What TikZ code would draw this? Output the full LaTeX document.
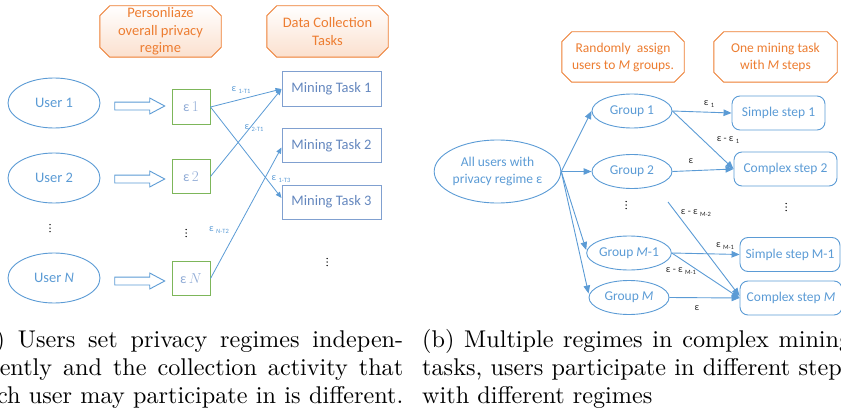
\documentclass[tikz,border=0pt]{standalone}
\usepackage{fontspec}
\newfontfamily\carlito{Carlito}
\usetikzlibrary{arrows.meta,shapes.arrows,shapes.geometric,backgrounds}

\definecolor{lineblue}{RGB}{91,155,213}
\definecolor{taskline}{RGB}{128,160,208}
\definecolor{tasktext}{RGB}{100,135,190}
\definecolor{epsgreen}{RGB}{125,182,90}
\definecolor{epstext}{RGB}{145,172,214}
\definecolor{octorange}{RGB}{237,125,49}
\definecolor{peach}{RGB}{251,224,206}
\definecolor{labdark}{RGB}{40,40,40}

\newcommand\sz[1]{\fontsize{#1}{#1}\selectfont}
% epsilon with a lowered small index, as in the edge labels
\newcommand\epsub[1]{ε\hspace{2.5pt}\raisebox{-2pt}{\sz{6.5}#1}}
% octagonal frame around a named node
\newcommand\octoframe[2]{%
  \draw[#2] ([xshift=10pt]#1.north west) -- ([xshift=-10pt]#1.north east)
    -- ([yshift=-10pt]#1.north east) -- ([yshift=10pt]#1.south east)
    -- ([xshift=-10pt]#1.south east) -- ([xshift=10pt]#1.south west)
    -- ([yshift=10pt]#1.south west) -- ([yshift=-10pt]#1.north west) -- cycle;}
\newcommand\capline[1]{\makebox[177.3pt][s]{#1}}

\tikzset{
  octlabel/.style={rectangle, inner sep=0, minimum width=121pt, minimum height=51pt,
    align=center, text=octorange},
  octline/.style={draw=octorange, line width=0.9pt},
  user/.style={ellipse, draw=lineblue, line width=0.9pt, fill=white, inner sep=0,
    minimum width=92pt, minimum height=50pt, text=lineblue, font=\carlito\sz{14.5}},
  blockarrow/.style={single arrow, draw=lineblue, line width=0.9pt, fill=white,
    inner xsep=0pt, inner ysep=3.5pt, minimum height=50pt,
    single arrow head extend=4pt, single arrow tip angle=56},
  epsbox/.style={rectangle, draw=epsgreen, line width=1pt, minimum width=38pt,
    minimum height=34pt, inner sep=0, text=epstext, font=\carlito\sz{14}},
  task/.style={rectangle, draw=taskline, line width=1pt, minimum width=99pt,
    minimum height=34pt, inner sep=0, text=tasktext, font=\carlito\sz{14.5}},
  conn/.style={draw=lineblue, line width=0.8pt, -{Triangle[length=6pt,width=5pt]}},
  lbl/.style={inner sep=0, text=lineblue, font=\carlito\sz{10}},
  rlbl/.style={inner sep=0, text=labdark, font=\carlito\sz{10}},
  grp/.style={ellipse, draw=lineblue, line width=0.9pt, inner sep=0,
    minimum width=80pt, minimum height=34pt, text=lineblue, font=\carlito\sz{13.5}},
  stepbox/.style={rectangle, rounded corners=8pt, draw=lineblue, line width=0.9pt,
    minimum height=34pt, inner sep=0, text=lineblue, font=\carlito\sz{13.5}},
  rconn/.style={draw=lineblue, line width=0.9pt, -{Triangle[length=8pt,width=6.5pt]}},
  vdot/.pic={\foreach \k in {-3.5,0,3.5} \fill (0,\k) circle[radius=0.75pt];},
}

\begin{document}
\begin{tikzpicture}[x=1pt, y=-1pt, font=\carlito]
\useasboundingbox (0,0) rectangle (841,412);
\clip (0,0) rectangle (841,412);

% ---------------- left panel ----------------
\node[octlabel, font=\carlito\fontsize{14.5}{17.5}\selectfont] (o1) at (160.5,31.5)
  {Personliaze\\overall privacy\\regime};
\node[octlabel, font=\carlito\fontsize{14.5}{17.5}\selectfont] (o2) at (327.5,31.5)
  {Data Collection\\Tasks};
\begin{scope}[on background layer]
  \octoframe{o1}{octline, top color=white, bottom color=peach}
  \octoframe{o2}{octline, top color=white, bottom color=peach}
\end{scope}

\node[user] (u1) at (54,103) {User 1};
\node[user] (u2) at (54,178) {User 2};
\node[user] (uN) at (54,278) {User \textit{N}};
\pic at (50,228) {vdot};

\node[blockarrow] (a1) at (136,106) {};
\node[blockarrow] (a2) at (136,179) {};
\node[blockarrow] (aN) at (136,281) {};

\node[epsbox] (e1) at (191,107) {ε\,{\rmfamily\sz{15}1}};
\node[epsbox] (e2) at (191,176.5) {ε\,{\rmfamily\sz{15}2}};
\node[epsbox] (eN) at (191,278.5) {ε\,{\sz{15}$N$}};
\pic at (186,233) {vdot};

\node[task] (mt1) at (331.5,89) {Mining Task 1};
\node[task] (mt2) at (331.5,145.5) {Mining Task 2};
\node[task] (mt3) at (331.5,202) {Mining Task 3};
\pic at (327,262) {vdot};

\draw[conn] (e1.east) -- (mt1.west);
\draw[conn] (e1.east) -- ([yshift=4pt]mt3.west);
\draw[conn] (e2.east) -- (mt1.west);
\draw[conn] (eN.east) -- ([yshift=-2pt]mt2.west);

\node[lbl] (l1) at (241,90) {\epsub{1-T1}};
\node[lbl] (l2) at (254,128) {\epsub{2-T1}};
\node[lbl] (l3) at (281,179) {\epsub{1-T3}};
\node[lbl] (l4) at (219,230) {\epsub{\textit{N}-T2}};

% ---------------- right panel ----------------
\node[octlabel, minimum width=122pt, minimum height=50pt,
  font=\carlito\fontsize{13.5}{17}\selectfont] (ro1) at (623,57)
  {Randomly\ \ assign\\users to \textit{M} groups.};
\node[octlabel, minimum width=123pt, minimum height=50pt,
  font=\carlito\fontsize{13.5}{17}\selectfont] (ro2) at (775.5,57)
  {One mining task\\with \textit{M} steps};
\begin{scope}[on background layer]
  \octoframe{ro1}{octline, fill=white}
  \octoframe{ro2}{octline, fill=white}
\end{scope}

\node[grp, minimum width=121pt, minimum height=63pt, align=center,
  font=\carlito\fontsize{13.5}{17.5}\selectfont] (all) at (497.5,171.5)
  {All users with\\privacy regime ε};

\node[grp] (g1) at (632,111) {Group 1};
\node[grp] (g2) at (632,171.5) {Group 2};
\node[grp] (gM1) at (629,253) {Group \textit{M}-1};
\node[grp] (gM) at (629,297.5) {Group \textit{M}};
\pic at (626,205) {vdot};

\node[stepbox, minimum width=93pt] (s1) at (778.5,113) {Simple step 1};
\node[stepbox, minimum width=103pt] (c2) at (785.5,169) {Complex step 2};
\node[stepbox, minimum width=100pt] (sM1) at (790,254.5) {Simple step M-1};
\node[stepbox, minimum width=102pt] (cM) at (791,298) {Complex step \textit{M}};
\pic at (786,207) {vdot};

\draw[rconn] (all.east) -- (g1.west);
\draw[rconn] (all.east) -- (g2.west);
\draw[rconn] (all.east) -- ([yshift=3pt]gM1.west);
\draw[rconn] (all.east) -- ([yshift=4pt]gM.west);

\coordinate (mid) at (668,202);
\draw[rconn] (g1.east) -- (s1.west);
\draw[rconn] (g1.east) -- (c2.west);
\draw[rconn] (g2.east) -- (c2.west);
\draw[rconn] (mid) -- ([yshift=2pt]cM.west);
\draw[rconn] (gM1.east) -- (sM1.west);
\draw[rconn] (gM1.east) -- (cM.west);
\draw[rconn] (gM.east) -- (cM.west);

\node[rlbl] (r1) at (709,104) {\epsub{1}};
\node[rlbl] (r2) at (728,140) {ε - \epsub{1}};
\node[rlbl] (r3) at (691,161) {ε};
\node[rlbl] (r4) at (696,213) {ε - \epsub{M-2}};
\node[rlbl] (r5) at (725,246) {\epsub{M-1}};
\node[rlbl] (r6) at (681,271) {ε - \epsub{M-1}};
\node[rlbl] (r7) at (697,308) {ε};

% ---------------- captions ----------------
\node[anchor=base west, inner sep=0] (capa) at (-26,347)
  {\scalebox{2.42}{\parbox[t]{177.3pt}{\rmfamily\fontsize{10}{11.57}\selectfont
    \capline{(a) Users set privacy regimes indepen-}\\
    \hspace*{\fill}\makebox[172.3pt][s]{dently and the collection activity that}\\
    \capline{each user may participate in is different.}}}};
\node[anchor=base west, inner sep=0] (capb) at (422,347)
  {\scalebox{2.42}{\parbox[t]{177.3pt}{\rmfamily\fontsize{10}{11.57}\selectfont
    \capline{(b) Multiple regimes in complex mining}\\
    \capline{tasks, users participate in different steps}\\
    with different regimes}}};
\end{tikzpicture}
\end{document}
